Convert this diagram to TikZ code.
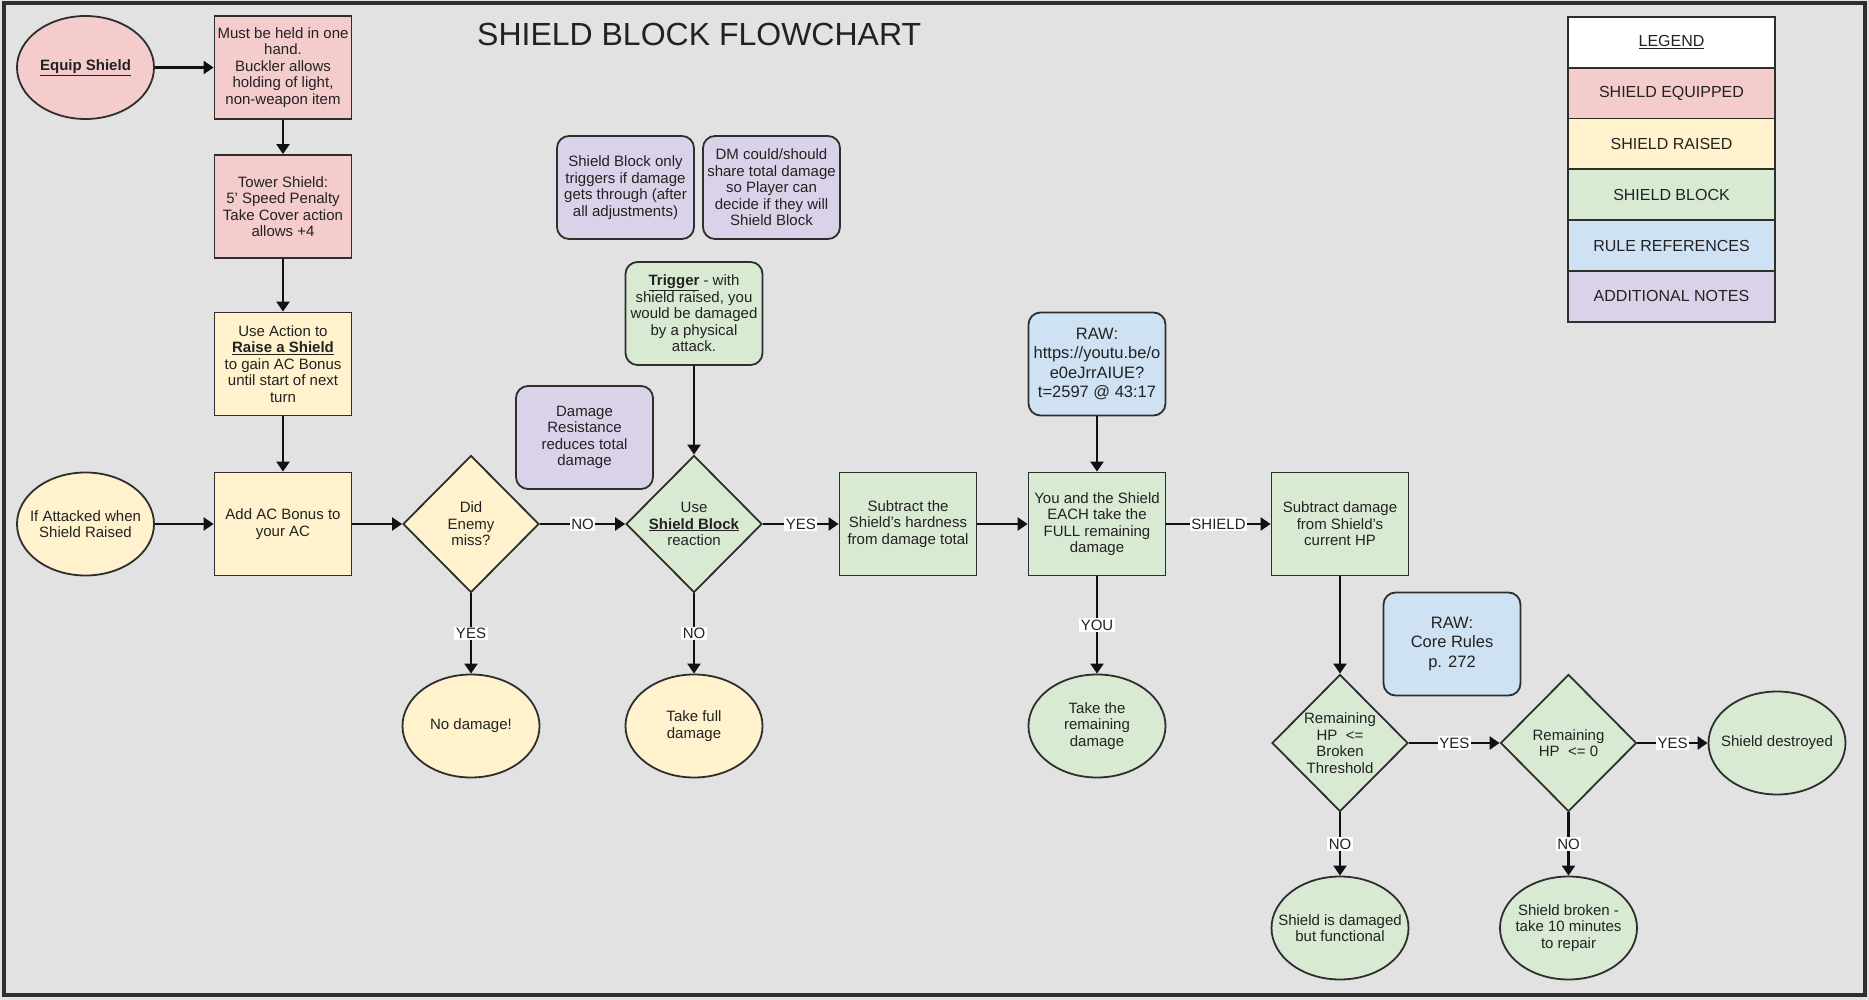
\documentclass[tikz,border=0pt]{standalone}
\usepackage{fontspec}
\setmainfont{Liberation Sans}
\usetikzlibrary{shapes.geometric,arrows.meta}
\definecolor{bgc}{HTML}{E2E2E2}
\definecolor{pinkc}{HTML}{F4CCCC}
\definecolor{yellowc}{HTML}{FFF2CC}
\definecolor{greenc}{HTML}{D9EAD3}
\definecolor{bluec}{HTML}{CFE2F3}
\definecolor{purplec}{HTML}{D9D2E9}
\definecolor{linec}{HTML}{2E2E2E}
\definecolor{textc}{HTML}{222222}
\definecolor{arrc}{HTML}{111111}
\newcommand{\apos}{{\char"27}}
\newcommand{\ulb}[1]{\underline{\textbf{#1}}}
\tikzset{
  box/.style={draw=linec, line width=1.8pt, minimum width=137pt, minimum height=103pt,
    inner sep=1pt, align=center, text=textc, font=\fontsize{15}{16.5}\selectfont},
  rectbox/.style={box, rectangle},
  notebox/.style={box, rectangle, rounded corners=12pt},
  rawbox/.style={notebox, fill=bluec, font=\fontsize{16.5}{19.3}\selectfont},
  oval/.style={box, ellipse},
  dia/.style={box, diamond, minimum width=136pt, minimum height=137pt, inner sep=0pt, shape aspect=1},
  txt/.style={inner sep=0pt, align=center, text=textc, font=\fontsize{15}{16.5}\selectfont},
  arr/.style={draw=arrc, line width=2.2pt, -{Triangle[length=10pt,width=13pt]}},
  lbl/.style={fill=white, inner sep=1.5pt, text=textc, font=\fontsize{15}{16}\selectfont},
  legrow/.style={draw=linec, line width=1.8pt, minimum width=207pt, minimum height=50.8pt,
    text=textc, font=\fontsize{16}{18}\selectfont},
}
\begin{document}
\begin{tikzpicture}[x=1pt,y=-1pt]
\useasboundingbox (0,0) rectangle (1869,1000);
\fill[bgc] (0,0) rectangle (1869,1000);
\draw[line width=3.5pt, draw=linec] (4,3) rectangle (1865,995);

\node[anchor=base west, text=textc, font=\fontsize{32}{36}\selectfont, inner sep=0pt] (title) at (477,46) {SHIELD BLOCK FLOWCHART};

% legend
\node[legrow, fill=white] (lg0) at (1671.5,42.4) {\underline{LEGEND}};
\node[legrow, fill=pinkc] (lg1) at (1671.5,93.2) {SHIELD EQUIPPED};
\node[legrow, fill=yellowc] (lg2) at (1671.5,144.0) {SHIELD RAISED};
\node[legrow, fill=greenc] (lg3) at (1671.5,194.8) {SHIELD BLOCK};
\node[legrow, fill=bluec] (lg4) at (1671.5,245.6) {RULE REFERENCES};
\node[legrow, fill=purplec] (lg5) at (1671.5,296.4) {ADDITIONAL NOTES};

% pink column
\node[oval, fill=pinkc] (equip) at (85.5,67.5) {};
\node[txt] (equipT) at (equip) {\ulb{Equip Shield}};
\node[rectbox, fill=pinkc] (must) at (283,67.5) {Must be held in one\\hand.\\Buckler allows\\holding of light,\\non-weapon item};
\node[rectbox, fill=pinkc] (tower) at (283,206.5) {Tower Shield:\\5\apos{} Speed Penalty\\Take Cover action\\allows +4};
\node[rectbox, fill=yellowc] (raise) at (283,364) {Use Action to\\\ulb{Raise a Shield}\\to gain AC Bonus\\until start of next\\turn};

% main row
\node[oval, fill=yellowc] (attacked) at (85.5,524) {};
\node[txt] (attackedT) at (attacked) {If Attacked when\\Shield Raised};
\node[rectbox, fill=yellowc] (addac) at (283,524) {Add AC Bonus to\\your AC};
\node[dia, fill=yellowc] (miss) at (471,524) {};
\node[txt] (missT) at (miss) {Did\\Enemy\\miss?};
\node[oval, fill=yellowc] (nodmg) at (471,726) {};
\node[txt] (nodmgT) at (nodmg) {No damage!};

% notes
\node[notebox, fill=purplec] (note1) at (625.5,187.5) {Shield Block only\\triggers if damage\\gets through (after\\all adjustments)};
\node[notebox, fill=purplec] (note2) at (771.5,187.5) {DM could/should\\share total damage\\so Player can\\decide if they will\\Shield Block};
\node[notebox, fill=greenc] (trigger) at (694,313.5) {\ulb{Trigger} - with\\shield raised, you\\would be damaged\\by a physical\\attack.};
\node[notebox, fill=purplec] (dr) at (584.5,437.5) {Damage\\Resistance\\reduces total\\damage};

\node[dia, fill=greenc] (block) at (694,524) {};
\node[txt] (blockT) at (block) {Use\\\ulb{Shield Block}\\reaction};
\node[oval, fill=yellowc] (fulldmg) at (694,726) {};
\node[txt] (fulldmgT) at (fulldmg) {Take full\\damage};

\node[rectbox, fill=greenc] (hard) at (908,524) {Subtract the\\Shield\apos{}s hardness\\from damage total};
\node[rawbox] (raw1) at (1097,364) {RAW:\\https://youtu.be/o\\e0eJrrAIUE?\\t=2597 @ 43:17};
\node[rectbox, fill=greenc] (each) at (1097,524) {You and the Shield\\EACH take the\\FULL remaining\\damage};
\node[oval, fill=greenc] (remain) at (1097,726) {};
\node[txt] (remainT) at (remain) {Take the\\remaining\\damage};

\node[rectbox, fill=greenc] (subhp) at (1340,524) {Subtract damage\\from Shield\apos{}s\\current HP};
\node[rawbox] (raw2) at (1452,644) {RAW:\\Core Rules\\p. 272};

\node[dia, fill=greenc] (broken) at (1340,743) {};
\node[txt] (brokenT) at (broken) {Remaining\\HP\ \ <=\\Broken\\Threshold};
\node[dia, fill=greenc] (zero) at (1568.5,743) {};
\node[txt] (zeroT) at (zero) {Remaining\\HP\ \ <= 0};
\node[oval, fill=greenc] (destroyed) at (1777,743) {};
\node[txt] (destroyedT) at (destroyed) {Shield destroyed};
\node[oval, fill=greenc] (damaged) at (1340,928) {};
\node[txt] (damagedT) at (damaged) {Shield is damaged\\but functional};
\node[oval, fill=greenc] (brokenr) at (1568.5,928) {};
\node[txt] (brokenrT) at (brokenr) {Shield broken -\\take 10 minutes\\to repair};

% connectors
\draw[arr] (equip) -- (must);
\draw[arr] (must) -- (tower);
\draw[arr] (tower) -- (raise);
\draw[arr] (raise) -- (addac);
\draw[arr] (attacked) -- (addac);
\draw[arr] (addac) -- (miss);
\draw[arr] (miss) -- node[lbl] (e1) {NO} (block);
\draw[arr] (miss) -- node[lbl] (e2) {YES} (nodmg);
\draw[arr] (trigger) -- (block);
\draw[arr] (block) -- node[lbl] (e3) {YES} (hard);
\draw[arr] (block) -- node[lbl] (e4) {NO} (fulldmg);
\draw[arr] (hard) -- (each);
\draw[arr] (raw1) -- (each);
\draw[arr] (each) -- node[lbl] (e5) {SHIELD} (subhp);
\draw[arr] (each) -- node[lbl] (e6) {YOU} (remain);
\draw[arr] (subhp) -- (broken);
\draw[arr] (broken) -- node[lbl] (e7) {YES} (zero);
\draw[arr] (zero) -- node[lbl] (e8) {YES} (destroyed);
\draw[arr] (broken) -- node[lbl] (e9) {NO} (damaged);
\draw[arr] (zero) -- node[lbl] (e10) {NO} (brokenr);
\end{tikzpicture}
\end{document}
